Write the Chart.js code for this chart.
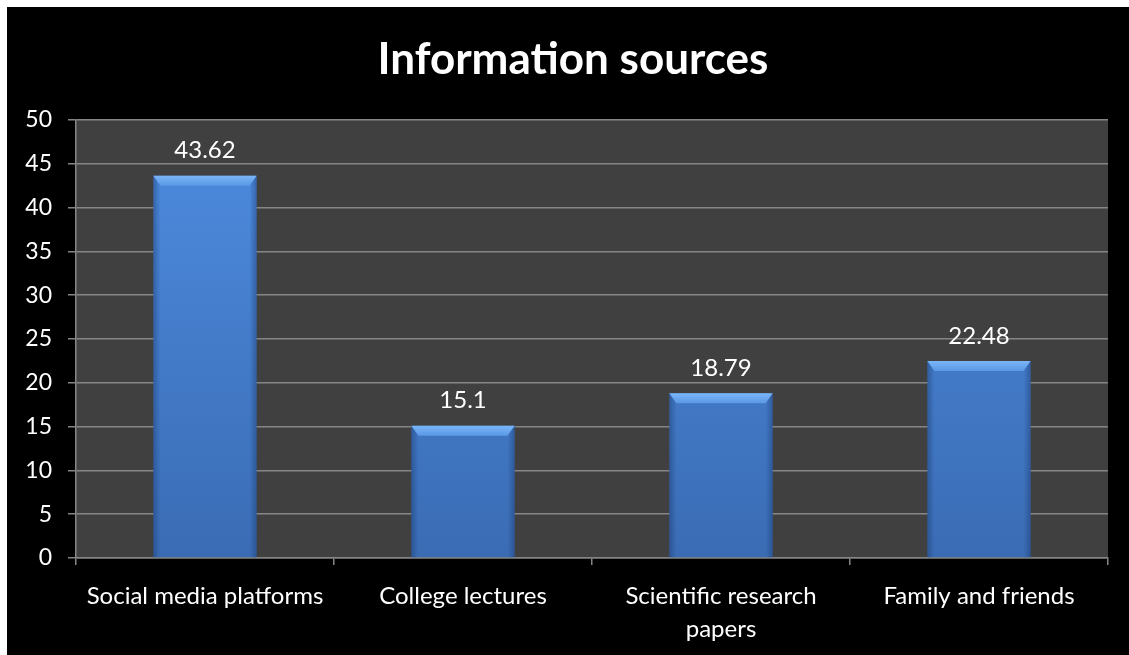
<!DOCTYPE html>
<html>
<head>
<meta charset="utf-8">
<script src="https://cdn.jsdelivr.net/npm/chart.js@4"></script>
<style>
  html, body { margin: 0; padding: 0; background: #ffffff; width: 1129px; height: 655px; overflow: hidden; }
  #wrap { position: absolute; left: 7px; top: 7px; width: 1122px; height: 648px; background: #000000; }
  canvas { display: block; }
</style>
</head>
<body>
<div id="wrap"><canvas id="c"></canvas></div>
<script>
const chartTitle = 'Information sources';
const categories = ['Social media platforms', 'College lectures', ['Scientific research', 'papers'], 'Family and friends'];
const values = [43.62, 15.1, 18.79, 22.48];
const valueLabels = ['43.62', '15.1', '18.79', '22.48'];
const yMin = 0, yMax = 50, yStep = 5;

const FONT = 'Lato, "Open Sans", sans-serif';
const GRID = '#858585';

const plotBg = {
  id: 'plotBg',
  beforeDraw(chart) {
    const a = chart.chartArea, ctx = chart.ctx;
    ctx.save();
    ctx.fillStyle = '#404040';
    ctx.fillRect(a.left, a.top, a.right - a.left, a.bottom - a.top);
    ctx.restore();
  }
};

const bevel = {
  id: 'bevel',
  afterDatasetsDraw(chart) {
    const ctx = chart.ctx;
    const meta = chart.getDatasetMeta(0);
    ctx.save();
    meta.data.forEach((el, i) => {
      const p = el.getProps(['x', 'y', 'base', 'width'], true);
      const l = p.x - p.width / 2, r = p.x + p.width / 2, t = p.y, b = p.base;
      const bw = 7, bh = 10;
      let g = ctx.createLinearGradient(l, 0, l + bw, 0);
      g.addColorStop(0, 'rgba(20,50,100,0.4)');
      g.addColorStop(1, 'rgba(20,50,100,0)');
      ctx.fillStyle = g;
      ctx.fillRect(l, t, bw, b - t);
      g = ctx.createLinearGradient(r - bw, 0, r, 0);
      g.addColorStop(0, 'rgba(20,50,100,0)');
      g.addColorStop(1, 'rgba(20,50,100,0.4)');
      ctx.fillStyle = g;
      ctx.fillRect(r - bw, t, bw, b - t);
      g = ctx.createLinearGradient(0, t, 0, t + bh);
      g.addColorStop(0, '#7ab6f6');
      g.addColorStop(1, '#5a98e6');
      ctx.fillStyle = g;
      ctx.beginPath();
      ctx.moveTo(l, t);
      ctx.lineTo(r, t);
      ctx.lineTo(r - bw, t + bh);
      ctx.lineTo(l + bw, t + bh);
      ctx.closePath();
      ctx.fill();
      ctx.fillStyle = '#ffffff';
      ctx.font = '24px ' + FONT;
      ctx.textAlign = 'center';
      ctx.textBaseline = 'middle';
      ctx.fillText(valueLabels[i], p.x, t - 25);
    });
    ctx.restore();
  }
};

function barFill(context) {
  const chart = context.chart;
  const a = chart.chartArea;
  if (!a) return '#4a84d4';
  const g = chart.ctx.createLinearGradient(0, a.top, 0, a.bottom);
  g.addColorStop(0, '#4e8ce0');
  g.addColorStop(1, '#3a6cb4');
  return g;
}

new Chart(document.getElementById('c'), {
  type: 'bar',
  data: {
    labels: categories,
    datasets: [{
      data: values,
      backgroundColor: barFill,
      borderWidth: 0,
      barPercentage: 0.40,
      categoryPercentage: 1.0
    }]
  },
  options: {
    responsive: true,
    maintainAspectRatio: false,
    animation: false,
    devicePixelRatio: 1,
    layout: { padding: { left: 10, right: 0, top: 0, bottom: 0 } },
    plugins: {
      legend: { display: false },
      tooltip: { enabled: false },
      title: {
        display: true,
        text: chartTitle,
        color: '#ffffff',
        font: { family: FONT, size: 44, weight: 'bold', lineHeight: 1.2 },
        padding: { top: 26, bottom: 34 }
      }
    },
    scales: {
      x: {
        offset: true,
        afterFit(scale) { scale.height = 97; },
        grid: { offset: true, drawOnChartArea: false, drawTicks: true, tickLength: 7, color: GRID, lineWidth: 1.5 },
        border: { display: true, color: GRID, width: 1.5 },
        ticks: {
          color: '#ffffff',
          padding: 15,
          maxRotation: 0,
          autoSkip: false,
          font: { family: FONT, size: 24, lineHeight: 1.375 }
        }
      },
      y: {
        min: yMin,
        max: yMax,
        afterFit(scale) { scale.width = 59; },
        grid: { color: GRID, lineWidth: 1.5, drawTicks: true, tickLength: 8 },
        border: { display: true, color: GRID, width: 1.5 },
        ticks: {
          stepSize: yStep,
          color: '#ffffff',
          padding: 16,
          font: { family: FONT, size: 23 }
        }
      },
      yRight: {
        position: 'right',
        display: true,
        min: yMin,
        max: yMax,
        afterFit(scale) { scale.width = 21; },
        grid: { display: false, drawOnChartArea: false },
        border: { display: false },
        ticks: { display: false }
      }
    }
  },
  plugins: [plotBg, bevel]
});
</script>
</body>
</html>
